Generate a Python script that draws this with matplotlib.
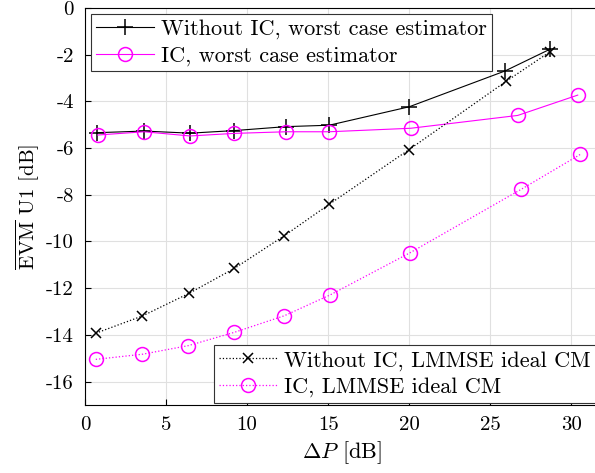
import numpy as np
import matplotlib
matplotlib.use('Agg')
import matplotlib.pyplot as plt

plt.rcParams['font.family'] = 'serif'
plt.rcParams['font.serif'] = ['cmr10', 'DejaVu Serif']
plt.rcParams['mathtext.fontset'] = 'cm'
plt.rcParams['axes.unicode_minus'] = False

# data
x_noic_wc = [0.72, 3.64, 6.48, 9.2, 12.4, 15.06, 20.0, 25.9, 28.7]
y_noic_wc = [-5.34, -5.27, -5.36, -5.25, -5.08, -5.02, -4.23, -2.70, -1.76]

x_ic_wc = [0.78, 3.64, 6.48, 9.2, 12.4, 15.06, 20.1, 26.7, 30.4]
y_ic_wc = [-5.44, -5.3, -5.48, -5.37, -5.3, -5.3, -5.15, -4.6, -3.73]

x_noic_lm = [0.66, 3.54, 6.42, 9.22, 12.3, 15.06, 19.96, 26.0, 28.7]
y_noic_lm = [-13.93, -13.19, -12.22, -11.15, -9.75, -8.41, -6.08, -3.13, -1.87]

x_ic_lm = [0.66, 3.54, 6.38, 9.22, 12.3, 15.12, 20.06, 26.9, 30.56]
y_ic_lm = [-15.05, -14.83, -14.46, -13.89, -13.18, -12.29, -10.48, -7.77, -6.27]

xticks = [0, 5, 10, 15, 20, 25, 30]
yticks = [0, -2, -4, -6, -8, -10, -12, -14, -16]
ytick_labels = ['0', '-2', '-4', '-6', '-8', '-10', '-12', '-14', '-16']

fig = plt.figure(figsize=(5.95, 4.73), dpi=100)
ax = fig.add_axes([0.143, 0.144, 0.862, 0.839])

l1, = ax.plot(x_noic_wc, y_noic_wc, '-', color='k', lw=0.8, marker='+',
              ms=12, mew=1.1, label='Without IC, worst case estimator')
l2, = ax.plot(x_ic_wc, y_ic_wc, '-', color='magenta', lw=0.8, marker='o',
              ms=10, mfc='none', mew=1.1, label='IC, worst case estimator')
l3, = ax.plot(x_noic_lm, y_noic_lm, ':', color='k', lw=0.9, marker='x',
              ms=7, mew=1.1, label='Without IC, LMMSE ideal CM')
l4, = ax.plot(x_ic_lm, y_ic_lm, ':', color='magenta', lw=0.9, marker='o',
              ms=10, mfc='none', mew=1.1, label='IC, LMMSE ideal CM')

ax.set_xlim(0, 31.65)
ax.set_ylim(-17, 0)
ax.set_xticks(xticks)
ax.set_yticks(yticks)
ax.set_yticklabels(ytick_labels)
ax.tick_params(direction='in', labelsize=15, length=4, pad=8)
ax.grid(True, color='#e0e0e0', lw=0.8)
ax.set_axisbelow(True)

ax.set_xlabel(r'$\Delta P$ [dB]', fontsize=16)
ax.set_ylabel(r'$\overline{\mathrm{EVM}}$ U1 [dB]', fontsize=15)

leg1 = ax.legend(handles=[l1, l2], loc='upper left', fontsize=16,
                 fancybox=False, edgecolor='#333333', framealpha=1,
                 borderaxespad=0.25, handlelength=2.6, borderpad=0.25,
                 labelspacing=0.3, handletextpad=0.3)
leg1.get_frame().set_linewidth(0.8)
ax.add_artist(leg1)
leg2 = ax.legend(handles=[l3, l4], loc='lower right', fontsize=16,
                 fancybox=False, edgecolor='#333333', framealpha=1,
                 borderaxespad=0.1, handlelength=2.6, borderpad=0.25,
                 labelspacing=0.3, handletextpad=0.3)
leg2.get_frame().set_linewidth(0.8)

fig.savefig('out.png', dpi=100)
